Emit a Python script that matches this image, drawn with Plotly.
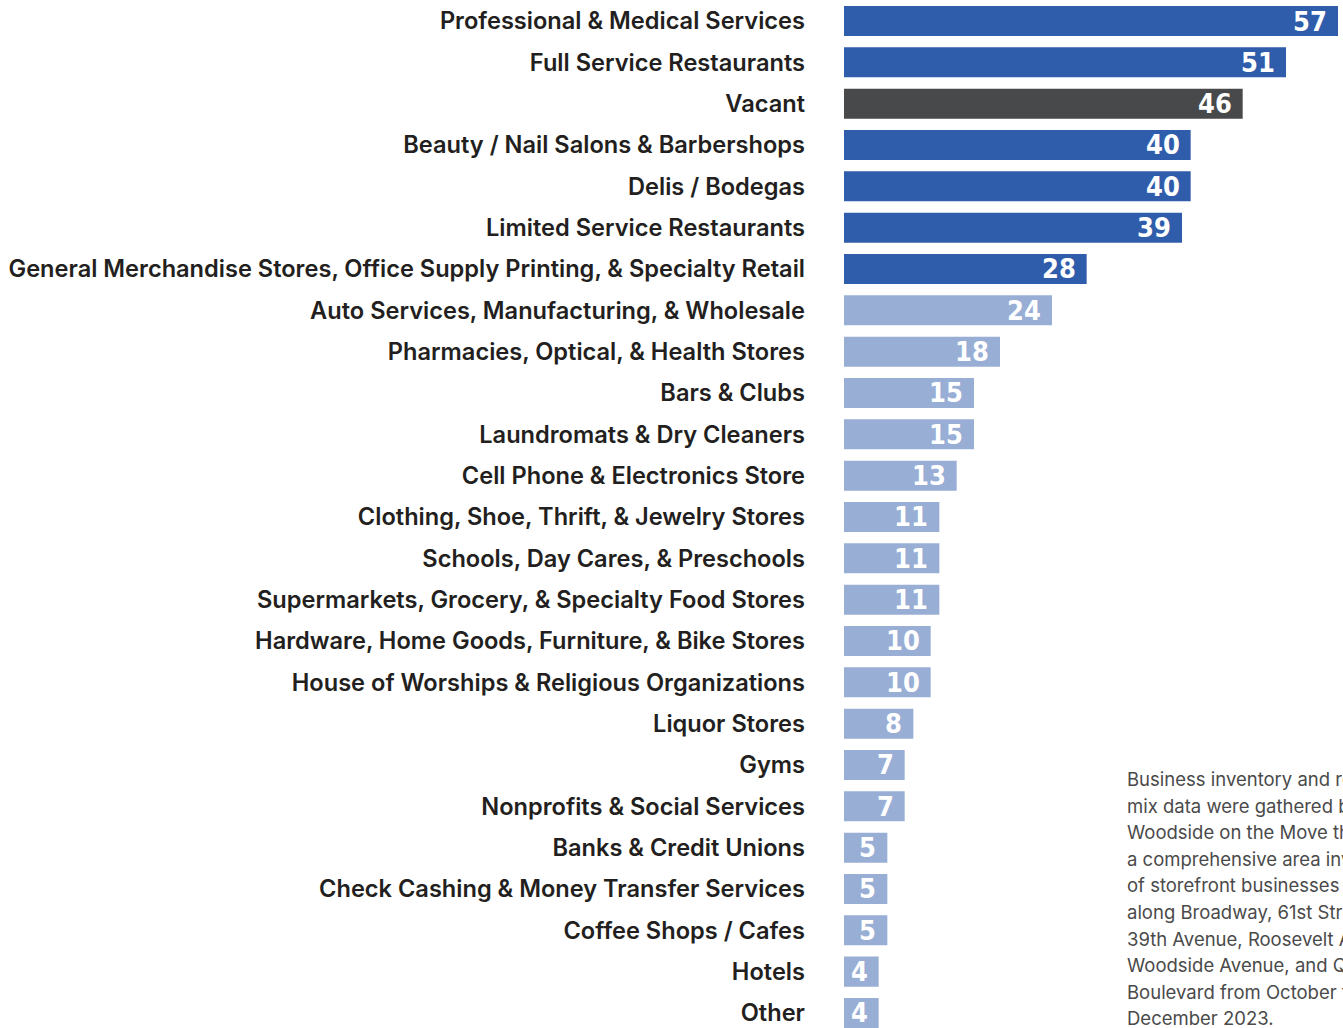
import plotly.graph_objects as go

categories = [
    "Professional & Medical Services",
    "Full Service Restaurants",
    "Vacant",
    "Beauty / Nail Salons & Barbershops",
    "Delis / Bodegas",
    "Limited Service Restaurants",
    "General Merchandise Stores, Office Supply Printing, & Specialty Retail",
    "Auto Services, Manufacturing, & Wholesale",
    "Pharmacies, Optical, & Health Stores",
    "Bars & Clubs",
    "Laundromats & Dry Cleaners",
    "Cell Phone & Electronics Store",
    "Clothing, Shoe, Thrift, & Jewelry Stores",
    "Schools, Day Cares, & Preschools",
    "Supermarkets, Grocery, & Specialty Food Stores",
    "Hardware, Home Goods, Furniture, & Bike Stores",
    "House of Worships & Religious Organizations",
    "Liquor Stores",
    "Gyms",
    "Nonprofits & Social Services",
    "Banks & Credit Unions",
    "Check Cashing & Money Transfer Services",
    "Coffee Shops / Cafes",
    "Hotels",
    "Other",
]
counts = [57, 51, 46, 40, 40, 39, 28, 24, 18, 15, 15, 13, 11, 11, 11, 10, 10, 8, 7, 7, 5, 5, 5, 4, 4]
groups = ["top"] * 2 + ["vacant"] + ["top"] * 4 + ["rest"] * 18

note_lines = [
    "Business inventory and retail",
    "mix data were gathered by",
    "Woodside on the Move through",
    "a comprehensive area inventory",
    "of storefront businesses",
    "along Broadway, 61st Street,",
    "39th Avenue, Roosevelt Avenue,",
    "Woodside Avenue, and Queens",
    "Boulevard from October to",
    "December 2023.",
]

group_colors = {"top": "#305dab", "vacant": "#48494b", "rest": "#98aed5"}

W, H = 1343, 1028
PL, PR = 844, 1338  # plot area left/right in pixels

fig = go.Figure()
fig.add_trace(go.Bar(
    x=counts,
    y=categories,
    orientation="h",
    marker=dict(color=[group_colors[g] for g in groups], line=dict(width=0)),
    hoverinfo="x+y",
))

# value labels inside the bar ends
for c, v in zip(categories, counts):
    fig.add_annotation(
        x=v, y=c, xref="x", yref="y",
        text=str(v), showarrow=False,
        xanchor="right", yanchor="middle", xshift=-9,
        font=dict(family="DejaVu Sans Condensed, Liberation Sans Narrow, sans-serif",
                  size=27, color="white", weight="bold"),
    )

# side note, one line per annotation to control leading
for i, line in enumerate(note_lines):
    fig.add_annotation(
        x=(1125 - PL) / (PR - PL), y=1 - (779 + i * 26.6) / H,
        xref="x domain", yref="paper",
        text=line, showarrow=False, xanchor="left", yanchor="middle",
        font=dict(family="Inter, Roboto, sans-serif", size=18.5, color="#4a4a4a"),
    )

fig.update_layout(
    width=W,
    height=H,
    margin=dict(l=PL, r=W - PR, t=0, b=0),
    paper_bgcolor="white",
    plot_bgcolor="white",
    bargap=0.274,
    showlegend=False,
    xaxis=dict(range=[0, 57], visible=False, fixedrange=True),
    yaxis=dict(
        categoryorder="array",
        categoryarray=categories,
        range=[24.364, -0.508],
        showgrid=False, zeroline=False, showline=False,
        ticks="", ticklabelstandoff=38,
        tickfont=dict(family="Inter, Roboto, sans-serif", size=23.6,
                      color="#231f20", weight=600),
    ),
)

# drop the default page margin so the figure sits at the window origin
fig.write_html("out.html", config={"displayModeBar": False},
               post_script="document.body.style.margin='0';")
